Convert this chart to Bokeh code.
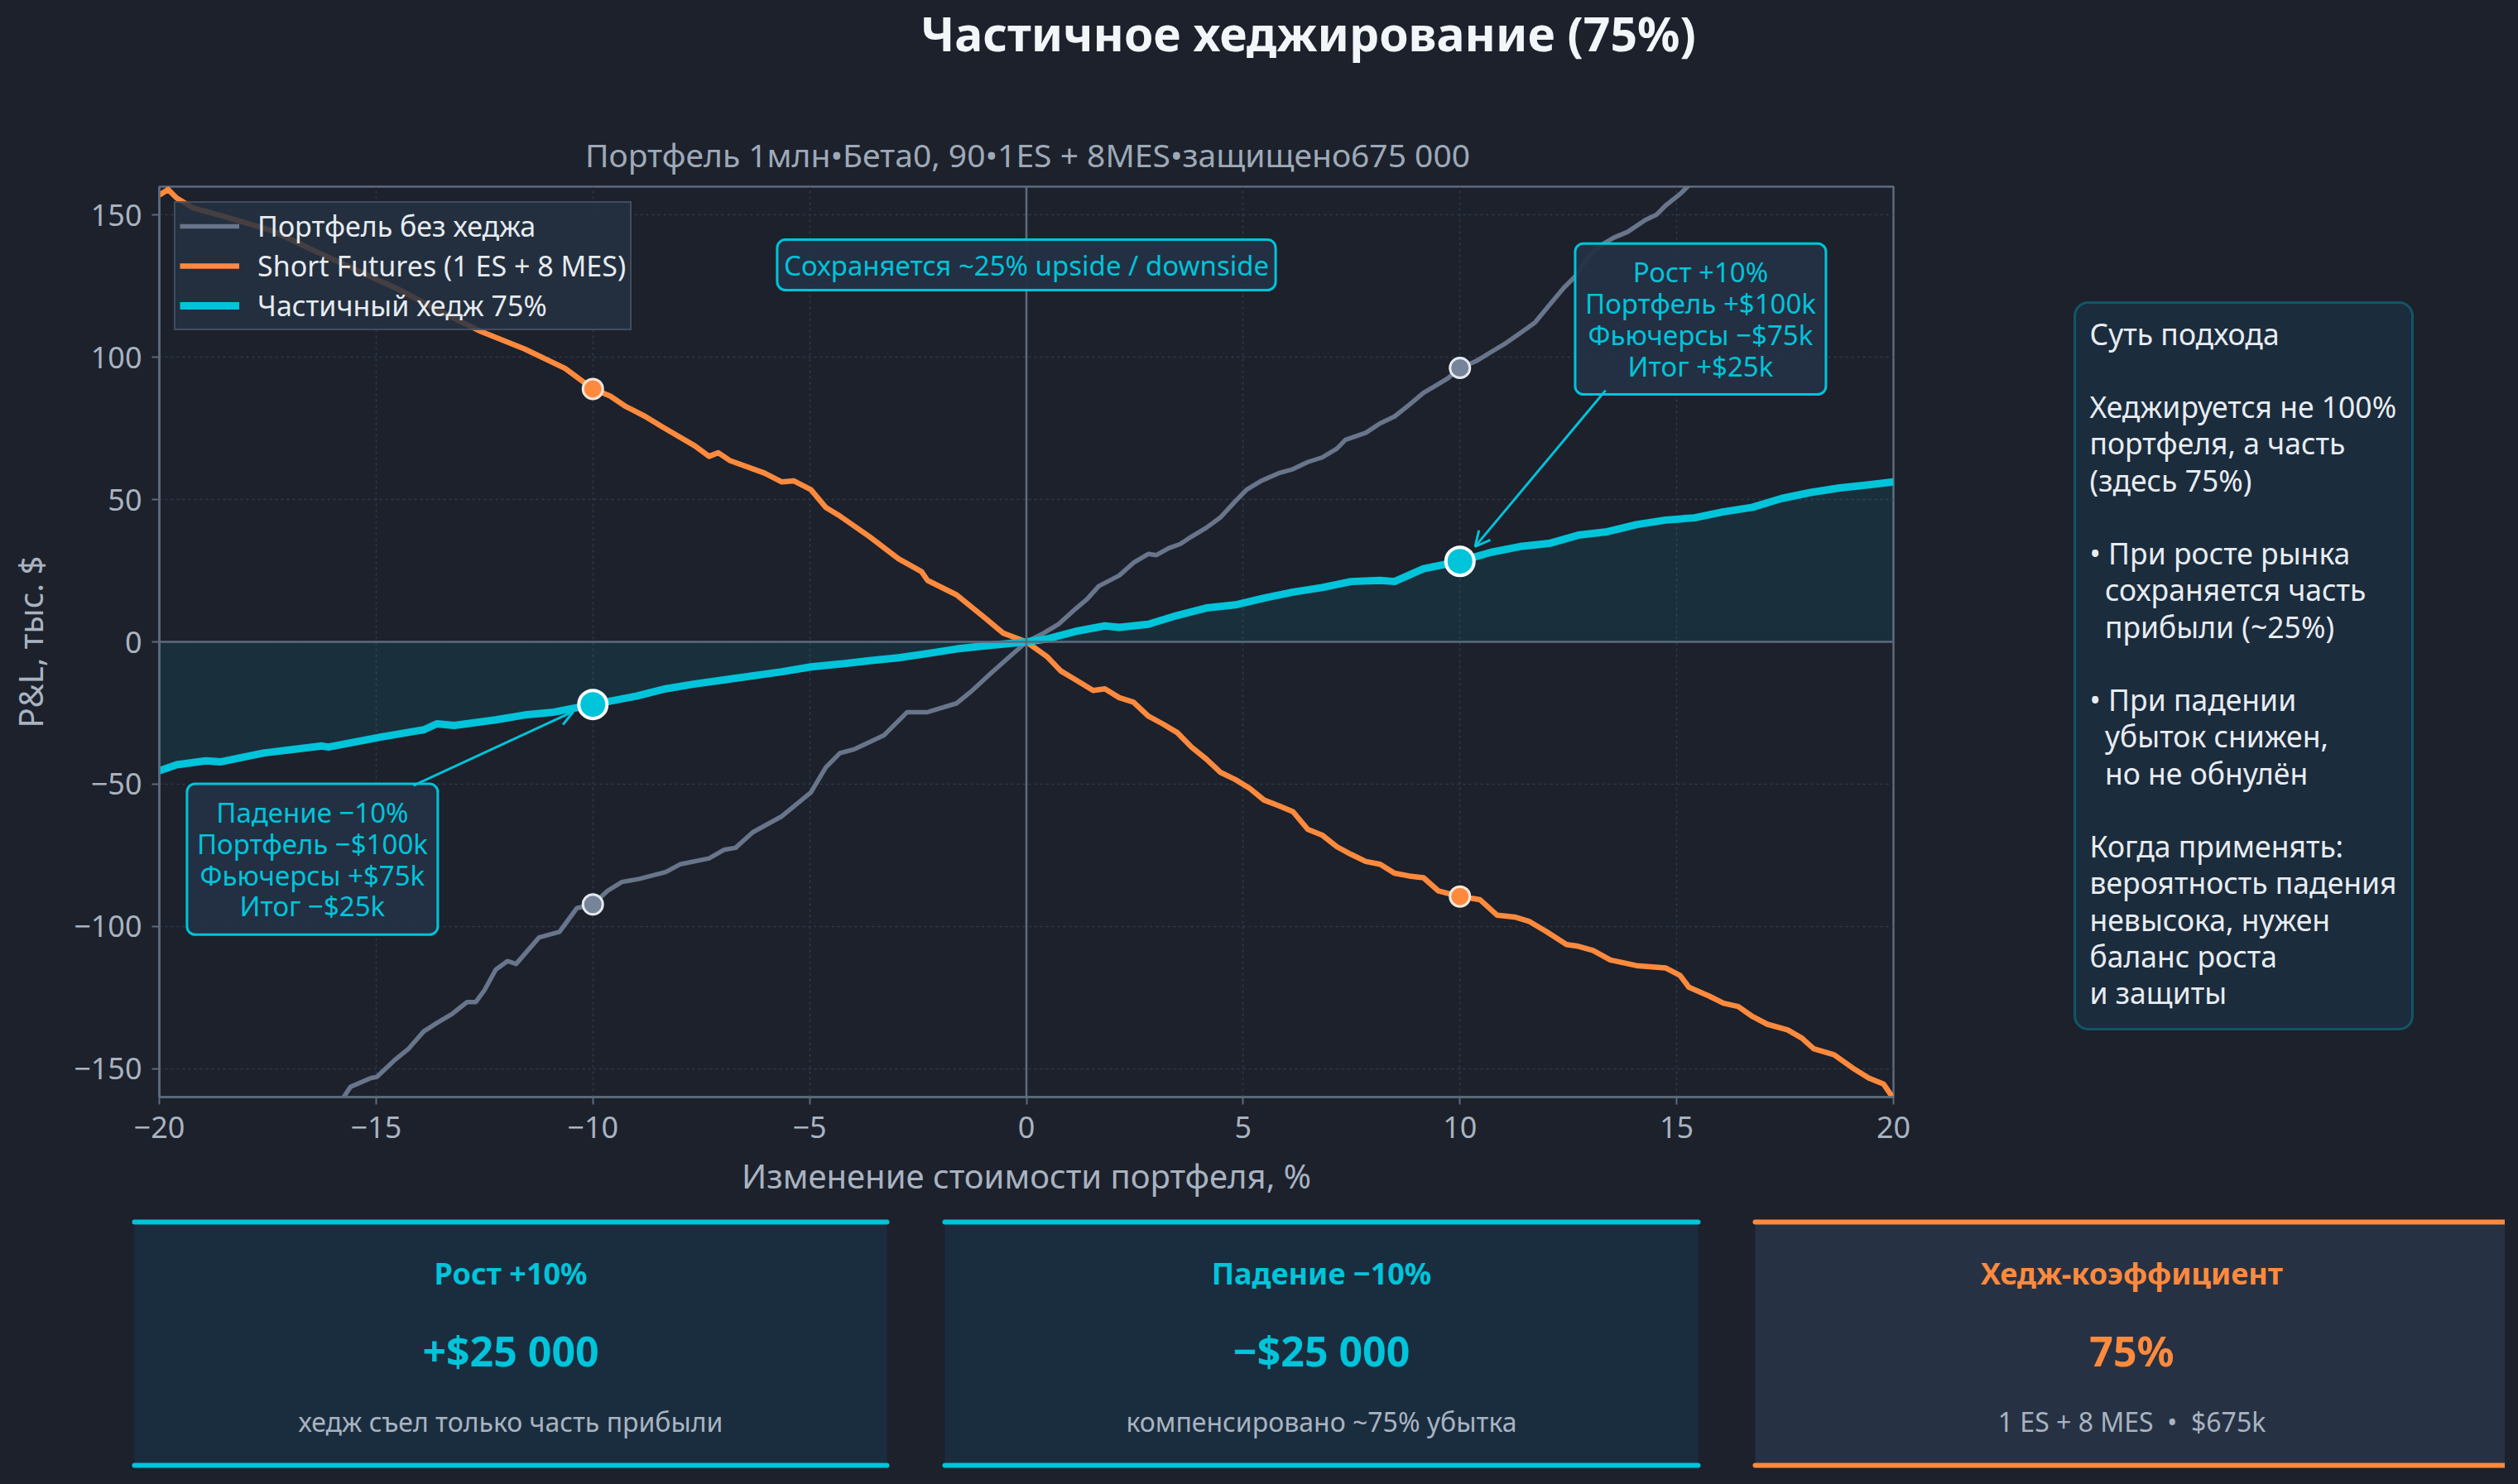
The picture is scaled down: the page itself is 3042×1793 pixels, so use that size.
from bokeh.plotting import figure
from bokeh.layouts import column, row
from bokeh.models import (Range1d, Span, Label, Legend, LegendItem, FixedTicker,
                          BoxAnnotation, Arrow, OpenHead)
from bokeh.core.properties import value
from bokeh.embed import file_html
from bokeh.resources import INLINE

# ---------------- data ----------------
portfolio_x = [-15.79, -15.59, -15.12, -14.98, -14.58, -14.25, -13.9, -13.58, -13.24, -12.9, -12.7,
               -12.5, -12.24, -11.97, -11.77, -11.24, -10.77, -10.37, -10.0, -9.66, -9.33, -8.93,
               -8.32, -7.99, -7.32, -6.98, -6.71, -6.31, -5.64, -4.97, -4.63, -4.3, -3.96, -3.29,
               -2.75, -2.28, -1.61, -1.28, -0.81, 0.0, 0.4, 0.74, 1.14, 1.4, 1.67, 2.14, 2.47, 2.81,
               3.0, 3.28, 3.55, 3.81, 4.15, 4.48, 4.82, 5.08, 5.42, 5.82, 6.15, 6.49, 6.82, 7.16,
               7.36, 7.83, 8.16, 8.49, 8.83, 9.16, 9.5, 9.72, 10.0, 10.39, 10.72, 11.06, 11.39,
               11.73, 12.06, 12.4, 12.67, 12.93, 13.2, 13.54, 13.87, 14.27, 14.54, 14.74, 15.08,
               15.28, 15.6, 16.0]
portfolio_y = [-161, -156.4, -153.3, -152.9, -147.1, -143, -136.9, -133.8, -130.7, -126.6, -126.6,
               -122.4, -115.2, -112.2, -113.2, -103.9, -101.9, -93.6, -92.3, -87.5, -84.4, -83.3,
               -80.9, -78.2, -76.1, -73.1, -72.4, -66.9, -61.3, -52.9, -44.2, -39.1, -37.7, -32.9,
               -24.7, -24.7, -21.6, -17.5, -10.9, 0, 3.1, 6.2, 11.7, 15, 19.6, 23.3, 27.8, 30.9,
               30.5, 32.9, 34.4, 37, 40.1, 43.8, 49.4, 53.5, 56.6, 59.3, 60.7, 63.2, 64.8, 67.9,
               71, 73.5, 76.8, 79.2, 83.3, 87.5, 90.6, 92.6, 96.3, 98.8, 101.9, 105, 108.5,
               112.2, 118.3, 124.5, 128.6, 134.8, 138.9, 142, 144.1, 148.2, 150.2, 153.3, 157.4,
               160.5, 161.5, 163]

futures_x = [-20, -19.8, -19.6, -19.22, -18.5, -17.36, -16.5, -15.5, -14.5, -13.5, -12.57, -11.57,
             -10.64, -10, -9.6, -9.26, -8.79, -8.39, -7.65, -7.32, -7.11, -6.85, -6.04, -5.64,
             -5.37, -4.97, -4.63, -4.3, -3.62, -2.95, -2.42, -2.28, -1.61, -0.94, -0.54, 0, 0.47,
             0.8, 1.14, 1.54, 1.81, 2.14, 2.47, 2.81, 3.14, 3.48, 3.81, 4.15, 4.48, 4.82, 5.15,
             5.48, 5.82, 6.15, 6.49, 6.82, 7.16, 7.49, 7.83, 8.16, 8.49, 8.83, 9.16, 9.5, 10,
             10.46, 10.86, 11.26, 11.59, 12.0, 12.46, 12.73, 13.07, 13.47, 14.07, 14.74, 15.08,
             15.28, 15.75, 16.08, 16.42, 16.75, 17.09, 17.56, 17.89, 18.16, 18.63, 19.1, 19.43,
             19.77, 20]
futures_y = [157, 159, 156, 152.5, 149.5, 144.3, 138, 131, 124, 116, 109, 102.9, 96.1, 88.9,
             86.4, 82.9, 79.2, 75.5, 68.9, 65.2, 66.5, 63.8, 59.3, 56.2, 56.6, 53.5, 47.3, 44.2,
             37, 29.2, 24.7, 21.6, 16.5, 8.2, 3.1, 0, -5.1, -10.3, -13.4, -17.1, -16.5, -19.6,
             -21.2, -26.1, -28.8, -31.9, -37, -41.2, -45.9, -48.4, -51.5, -55.6, -57.6, -59.7,
             -65.9, -67.9, -72, -74.7, -77.2, -78.2, -81.3, -82.3, -82.9, -87.5, -89.5, -90.6,
             -96.1, -96.7, -98.2, -101.9, -106.4, -107, -108.5, -111.8, -113.8, -114.6, -117.3,
             -121.4, -124.5, -127, -128.2, -131.7, -134.4, -136.4, -139.3, -143, -145.1, -150.2,
             -153.3, -155.4, -160.5]

hedge_x = [-20, -19.6, -18.93, -18.6, -17.6, -16.25, -16.1, -14.9, -13.9, -13.6, -13.2, -12.24,
           -11.57, -10.9, -10, -9, -8.32, -7.65, -6.98, -5.64, -4.97, -4.3, -3.62, -2.95, -2.28,
           -1.61, -0.94, 0, 0.47, 1.14, 1.81, 2.14, 2.81, 3.48, 4.15, 4.82, 5.48, 6.15, 6.82,
           7.49, 8.16, 8.49, 9.16, 10, 10.72, 11.39, 12.06, 12.73, 13.4, 14.07, 14.74, 15.41,
           16.08, 16.75, 17.42, 18.09, 18.76, 19.43, 20]
hedge_y = [-45.3, -43.2, -41.8, -42.2, -39.1, -36.6, -37, -33.5, -30.9, -28.8, -29.4, -27.4,
           -25.7, -24.7, -22.0, -19.1, -16.5, -14.8, -13.4, -10.5, -8.8, -7.8, -6.6, -5.6, -4.1,
           -2.5, -1.4, 0, 1, 3.7, 5.6, 5.1, 6.2, 9.3, 11.9, 13, 15.4, 17.5, 19.1, 21.2, 21.6,
           21.2, 25.7, 28.3, 31.5, 33.5, 34.6, 37.5, 38.7, 41.2, 42.8, 43.6, 45.7, 47.3, 50.4,
           52.5, 54.1, 55.2, 56.2]

scenario_x = [-10, 10]
portfolio_mark = [-92.3, 96.3]
futures_mark = [88.9, -89.5]
hedge_mark = [-22.0, 28.3]

x_ticks = [-20, -15, -10, -5, 0, 5, 10, 15, 20]
y_ticks = [-150, -100, -50, 0, 50, 100, 150]

legend_labels = ["Портфель без хеджа", "Short Futures (1 ES + 8 MES)", "Частичный хедж 75%"]

title_text = "Частичное хеджирование (75%)"
subtitle_text = "Портфель 1млн•Бета0, 90•1ES + 8MES•защищено675 000"
x_label = "Изменение стоимости портфеля, %"
y_label = "P&L, тыс. $"

note_top = "Сохраняется ~25% upside / downside"
note_up = "Рост +10%\nПортфель +$100k\nФьючерсы −$75k\nИтог +$25k"
note_down = "Падение −10%\nПортфель −$100k\nФьючерсы +$75k\nИтог −$25k"

NB = "\u00a0"
info_text = ("Суть подхода\n\nХеджируется не 100%\nпортфеля, а часть\n(здесь 75%)\n\n"
             "• При росте рынка\n" + NB * 2 + "сохраняется часть\n" + NB * 2 + "прибыли (~25%)\n\n"
             "• При падении\n" + NB * 2 + "убыток снижен,\n" + NB * 2 + "но не обнулён\n\n"
             "Когда применять:\nвероятность падения\nневысока, нужен\nбаланс роста\nи защиты")

card_titles = ["Рост +10%", "Падение −10%", "Хедж-коэффициент"]
card_values = ["+$25 000", "−$25 000", "75%"]
card_subs = ["хедж съел только часть прибыли", "компенсировано ~75% убытка",
             "1 ES + 8 MES" + NB * 2 + "•" + NB * 2 + "$675k"]

# ---------------- style ----------------
BG = "#1c212c"
GRAY = "#68758a"
ORANGE = "#ff8a3d"
CYAN = "#00c4da"
SPINE = "#5d6b7d"
TICK_TXT = "#a9b3c0"
FONT = "Noto Sans"

def fmt(v):
    return ("−" + str(abs(v))) if v < 0 else str(v)

def blank_fig(x0, x1, y0, y1, top=0, bottom=0):
    # pixel-space helper figure: data x = page x, data y = -page y (frame spans y0+top .. y1-bottom)
    f = figure(width=x1 - x0, height=y1 - y0, x_range=Range1d(x0, x1),
               y_range=Range1d(-(y1 - bottom), -(y0 + top)),
               x_axis_type=None, y_axis_type=None, output_backend="svg",
               toolbar_location=None, min_border=0, min_border_top=top, min_border_bottom=bottom,
               outline_line_color=None, background_fill_color=BG, border_fill_color=BG)
    f.grid.visible = False
    return f

# ---------------- header ----------------
head = blank_fig(0, 3026, 0, 214)
head.text(x=[1580], y=[-39], text=[title_text], text_align="center", text_baseline="middle",
          text_font=value(FONT), text_font_style="bold", text_font_size="57px", text_color="#f3f6f9")
head.text(x=[1241], y=[-186], text=[subtitle_text], text_align="center", text_baseline="middle",
          text_font=value(FONT), text_font_size="39px", text_color="#9ea9b7")

# ---------------- main chart ----------------
MAIN_TOP, MAIN_BOTTOM = 214, 1467
p = figure(width=2400, height=MAIN_BOTTOM - MAIN_TOP, x_range=Range1d(-20, 20),
           y_range=Range1d(-160, 160), output_backend="svg", toolbar_location=None,
           min_border_left=192, min_border_right=113, min_border_top=11, min_border_bottom=142,
           background_fill_color=BG, border_fill_color=BG,
           outline_line_color=SPINE, outline_line_width=2.5)

p.xaxis.ticker = FixedTicker(ticks=x_ticks)
p.yaxis.ticker = FixedTicker(ticks=y_ticks)
p.xaxis.major_label_overrides = {t: fmt(t) for t in x_ticks}
p.yaxis.major_label_overrides = {t: fmt(t) for t in y_ticks}
for ax in (p.xaxis[0], p.yaxis[0]):
    ax.axis_line_color = SPINE
    ax.axis_line_width = 2.5
    ax.major_tick_line_color = SPINE
    ax.major_tick_line_width = 2
    ax.major_tick_out = 9
    ax.major_tick_in = 0
    ax.minor_tick_line_color = None
    ax.major_label_text_font = FONT
    ax.major_label_text_font_size = "36px"
    ax.major_label_text_color = TICK_TXT
    ax.axis_label_text_font = FONT
    ax.axis_label_text_font_size = "40px"
    ax.axis_label_text_font_style = "normal"
    ax.axis_label_text_color = TICK_TXT
p.xaxis.axis_label = x_label
p.yaxis.axis_label = y_label
p.xaxis.major_label_standoff = 14
p.xaxis.axis_label_standoff = 15
p.yaxis.major_label_standoff = 12
p.yaxis.axis_label_standoff = 22

p.grid.grid_line_color = "#2f3b4b"
p.grid.grid_line_width = 1.5
p.grid.grid_line_dash = "3 4"

p.add_layout(Span(location=0, dimension="width", line_color=SPINE, line_width=2.5))
p.add_layout(Span(location=0, dimension="height", line_color=SPINE, line_width=2.5))

p.varea(x=hedge_x, y1=[0] * len(hedge_x), y2=hedge_y, fill_color=CYAN, fill_alpha=0.09)

r_port = p.line(portfolio_x, portfolio_y, line_color=GRAY, line_width=5.5, line_join="round")
r_fut = p.line(futures_x, futures_y, line_color=ORANGE, line_width=6.5, line_join="round")
r_hedge = p.line(hedge_x, hedge_y, line_color=CYAN, line_width=9, line_join="round")

p.scatter(scenario_x, portfolio_mark, size=24, fill_color="#76849a", line_color="#e4e9ef", line_width=3)
p.scatter(scenario_x, futures_mark, size=24, fill_color=ORANGE, line_color="#f2e6dc", line_width=3)
p.scatter(scenario_x, hedge_mark, size=34, fill_color=CYAN, line_color="#ffffff", line_width=4)

legend = Legend(items=[LegendItem(label=legend_labels[0], renderers=[r_port]),
                       LegendItem(label=legend_labels[1], renderers=[r_fut]),
                       LegendItem(label=legend_labels[2], renderers=[r_hedge])],
                location="top_left", margin=18, padding=5, spacing=2,
                glyph_width=72, glyph_height=30, label_height=30, label_standoff=22,
                label_text_font=FONT, label_text_font_size="34px", label_text_color="#e6ebf0",
                background_fill_color="#243142", background_fill_alpha=0.85,
                border_line_color="#5d6b7d", border_line_width=2.5)
p.add_layout(legend)

box_style = dict(text_font=FONT, text_color=CYAN, text_align="center", text_baseline="middle",
                 background_fill_color="#243244", background_fill_alpha=0.95,
                 border_line_color=CYAN, border_line_width=3, border_radius=10,
                 text_font_size="33px")

p.add_layout(Label(x=0, y=132.5, text=note_top, padding=8, **box_style))
p.add_layout(Label(x=15.55, y=113.5, text=note_up, padding=12, text_line_height=0.84, **box_style))
p.add_layout(Label(x=-16.47, y=-76.4, text=note_down, padding=12, text_line_height=0.84, **box_style))

p.add_layout(Arrow(x_start=13.36, y_start=88.4, x_end=10.35, y_end=33.5, line_color=CYAN,
                   line_width=3, end=OpenHead(size=18, line_color=CYAN, line_width=3)))
p.add_layout(Arrow(x_start=-14.14, y_start=-50.5, x_end=-10.45, y_end=-24.5, line_color=CYAN,
                   line_width=3, end=OpenHead(size=18, line_color=CYAN, line_width=3)))

# ---------------- side info box ----------------
side = blank_fig(2400, 3026, MAIN_TOP, MAIN_BOTTOM, top=11, bottom=142)
side.add_layout(BoxAnnotation(left=2506, right=2914, top=-365, bottom=-1243, fill_color="#1b2c3d",
                              fill_alpha=1, line_color=CYAN, line_width=3, border_radius=16,
                              level="underlay"))
side.text(x=[2524], y=[-378], text=[info_text], text_align="left", text_baseline="top",
          text_font=value(FONT), text_font_size="35.5px", text_color="#e8ecf1", text_line_height=0.922)

# ---------------- cards ----------------
cards = blank_fig(0, 3026, MAIN_BOTTOM, 1777)
card_left = [162, 1141, 2120]
card_right = [1071, 2051, 3030]
card_fill = ["#1a2d3f", "#1a2d3f", "#263244"]
card_color = [CYAN, CYAN, ORANGE]
for i in range(3):
    cards.add_layout(BoxAnnotation(left=card_left[i], right=card_right[i], top=-1476, bottom=-1770,
                                   fill_color=card_fill[i], fill_alpha=1, line_color=None,
                                   border_radius=6, level="underlay"))
    cards.segment(x0=[card_left[i], card_left[i]], y0=[-1476, -1770],
                  x1=[card_right[i], card_right[i]], y1=[-1476, -1770],
                  line_color=card_color[i], line_width=6, line_cap="round")
    cx = (card_left[i] + card_right[i]) / 2
    cards.text(x=[cx], y=[-1538], text=[card_titles[i]], text_align="center", text_baseline="middle",
               text_font=value(FONT), text_font_style="bold", text_font_size="36px",
               text_color=card_color[i])
    cards.text(x=[cx], y=[-1631], text=[card_values[i]], text_align="center", text_baseline="middle",
               text_font=value(FONT), text_font_style="bold", text_font_size="50px",
               text_color=card_color[i])
    cards.text(x=[cx], y=[-1717], text=[card_subs[i]], text_align="center", text_baseline="middle",
               text_font=value(FONT), text_font_size="32px", text_color="#a9b3c0")

layout = column(head, row(p, side), cards, styles={"background-color": BG})

html = file_html(layout, INLINE, title="Частичное хеджирование")
html = html.replace("<head>", "<head><style>html,body{background:#1c212c;}</style>", 1)
open("out.html", "w").write(html)
